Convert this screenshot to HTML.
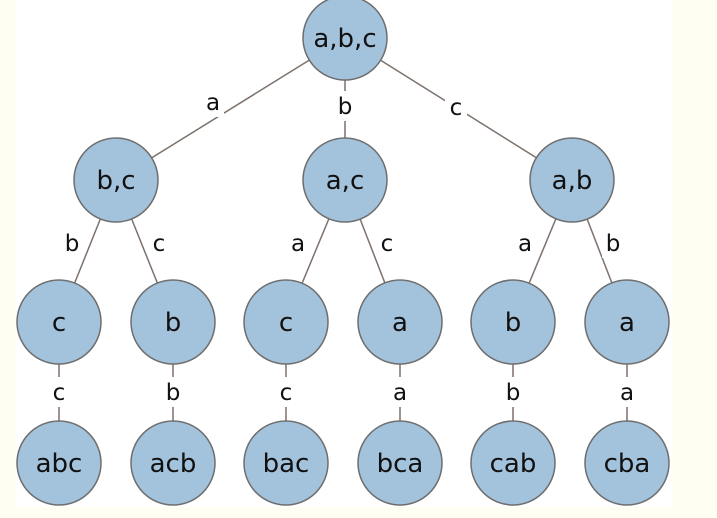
<!DOCTYPE html>
<html><head><style>body{margin:0;background:#fffef2}svg{display:block}</style></head><body>
<svg width="717" height="518" xmlns="http://www.w3.org/2000/svg" font-family="'DejaVu Sans','Liberation Sans',sans-serif">
<rect x="0" y="0" width="717" height="518" fill="#fffef2"/>
<rect x="16" y="0" width="656" height="507" fill="#ffffff"/>
<g stroke="#7d716b" stroke-width="1.5">
<line x1="345" y1="38" x2="116" y2="180"/><line x1="345" y1="38" x2="345" y2="180"/><line x1="345" y1="38" x2="572" y2="180"/>
<line x1="116" y1="180" x2="59" y2="322"/><line x1="116" y1="180" x2="173" y2="322"/>
<line x1="345" y1="180" x2="286" y2="322"/><line x1="345" y1="180" x2="400" y2="322"/>
<line x1="572" y1="180" x2="513" y2="322"/><line x1="572" y1="180" x2="627" y2="322"/>
<line x1="59" y1="322" x2="59" y2="463"/><line x1="173" y1="322" x2="173" y2="463"/><line x1="286" y1="322" x2="286" y2="463"/>
<line x1="400" y1="322" x2="400" y2="463"/><line x1="513" y1="322" x2="513" y2="463"/><line x1="627" y1="322" x2="627" y2="463"/>
</g>
<g fill="#fff">
<rect x="202" y="87" width="22" height="30"/><rect x="334" y="91" width="22" height="30"/><rect x="445" y="92" width="22" height="30"/>
<rect x="61" y="228" width="22" height="30"/><rect x="148" y="228" width="22" height="30"/><rect x="287" y="228" width="22" height="30"/>
<rect x="376" y="228" width="22" height="30"/><rect x="514" y="228" width="22" height="30"/><rect x="602" y="228" width="22" height="30"/>
<rect x="48" y="377" width="22" height="30"/><rect x="162" y="377" width="22" height="30"/><rect x="275" y="377" width="22" height="30"/>
<rect x="389" y="377" width="22" height="30"/><rect x="502" y="377" width="22" height="30"/><rect x="616" y="377" width="22" height="30"/>
</g>
<g font-size="23" fill="#111" text-anchor="middle">
<text x="213" y="110">a</text><text x="345" y="114">b</text><text x="456" y="115">c</text>
<text x="72" y="251">b</text><text x="159" y="251">c</text><text x="298" y="251">a</text>
<text x="387" y="251">c</text><text x="525" y="251">a</text><text x="613" y="251">b</text>
<text x="59" y="400">c</text><text x="173" y="400">b</text><text x="286" y="400">c</text>
<text x="400" y="400">a</text><text x="513" y="400">b</text><text x="627" y="400">a</text>
</g>
<g fill="#a3c2dc" stroke="#6e6e6e" stroke-width="1.5">
<circle cx="345" cy="38" r="42"/>
<circle cx="116" cy="180" r="42"/><circle cx="345" cy="180" r="42"/><circle cx="572" cy="180" r="42"/>
<circle cx="59" cy="322" r="42"/><circle cx="173" cy="322" r="42"/><circle cx="286" cy="322" r="42"/>
<circle cx="400" cy="322" r="42"/><circle cx="513" cy="322" r="42"/><circle cx="627" cy="322" r="42"/>
<circle cx="59" cy="463" r="42"/><circle cx="173" cy="463" r="42"/><circle cx="286" cy="463" r="42"/>
<circle cx="400" cy="463" r="42"/><circle cx="513" cy="463" r="42"/><circle cx="627" cy="463" r="42"/>
</g>
<g font-size="26" fill="#111" text-anchor="middle">
<text x="345" y="47">a,b,c</text>
<text x="116" y="189">b,c</text><text x="345" y="189">a,c</text><text x="572" y="189">a,b</text>
<text x="59" y="331">c</text><text x="173" y="331">b</text><text x="286" y="331">c</text>
<text x="400" y="331">a</text><text x="513" y="331">b</text><text x="627" y="331">a</text>
<text x="59" y="472">abc</text><text x="173" y="472">acb</text><text x="286" y="472">bac</text>
<text x="400" y="472">bca</text><text x="513" y="472">cab</text><text x="627" y="472">cba</text>
</g>
</svg>
</body></html>
